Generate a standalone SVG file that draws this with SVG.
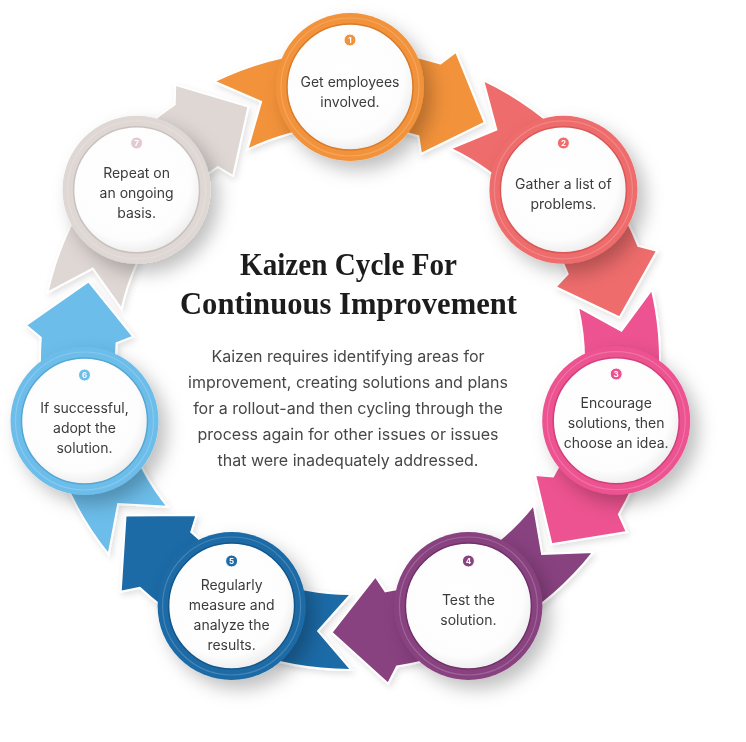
<svg xmlns="http://www.w3.org/2000/svg" width="746" height="742" viewBox="0 0 746 742">
  <defs>
    <style>
      .lbl { font-family: Inter, "Liberation Sans", sans-serif; font-size: 14px; fill: #3b3b3b; text-anchor: middle; }
      .num { font-family: Inter, "Liberation Sans", sans-serif; font-size: 8px; font-weight: 700; fill: #ffffff; text-anchor: middle; }
      .title { font-family: "Liberation Serif", "DejaVu Serif", serif; font-size: 31px; font-weight: 700; fill: #1c1c1c; text-anchor: middle; }
      .body { font-family: Inter, "Liberation Sans", sans-serif; font-size: 16px; fill: #474747; text-anchor: middle; }
      .arrow { stroke: #ffffff; stroke-width: 2; stroke-linejoin: miter; }
      .hi { fill: none; stroke: #ffffff; stroke-opacity: 0.18; stroke-width: 1.2; }
      .disk { fill: url(#diskGrad); stroke-width: 1.5; }
    </style>
    <radialGradient id="diskGrad" cx="0.45" cy="0.42" r="0.6">
      <stop offset="0" stop-color="#ffffff"/>
      <stop offset="0.8" stop-color="#fdfdfd"/>
      <stop offset="1" stop-color="#ececec"/>
    </radialGradient>
    <filter id="sh" x="-40%" y="-40%" width="190%" height="190%">
      <feDropShadow dx="8" dy="9" stdDeviation="9" flood-color="#000000" flood-opacity="0.25"/>
    </filter>
    <filter id="ash" x="-20%" y="-20%" width="140%" height="140%">
      <feDropShadow dx="2" dy="3" stdDeviation="3" flood-color="#000000" flood-opacity="0.12"/>
    </filter>
    <path id="band" d="M214.1,81.4 A310,310 0 0 1 440.6,63.5 L456.1,51.8 L484.8,122.6 L421.0,153.9 L418.4,136.2 A234,234 0 0 0 247.4,149.7 L261.1,101.9 Z"/>
  </defs>

  <rect width="746" height="742" fill="#ffffff"/>

  <g id="connectors" filter="url(#ash)">
    <use href="#band" class="arrow" fill="#F2923B" transform="rotate(0 350 360)"/>
    <use href="#band" class="arrow" fill="#EE6C6C" transform="rotate(51.4286 350 360)"/>
    <use href="#band" class="arrow" fill="#EC5290" transform="rotate(102.857 350 360)"/>
    <use href="#band" class="arrow" fill="#894280" transform="rotate(154.286 350 360)"/>
    <use href="#band" class="arrow" fill="#1E6BA6" transform="rotate(205.714 350 360)"/>
    <use href="#band" class="arrow" fill="#6CBDEA" transform="rotate(257.143 350 360)"/>
    <use href="#band" class="arrow" fill="#DED7D4" transform="rotate(308.571 350 360)"/>
  </g>

  <g id="node1">
    <circle cx="350" cy="87" r="74" fill="#F2923B" filter="url(#sh)"/>
    <circle cx="350" cy="87" r="69" class="hi"/>
    <circle cx="350" cy="87" r="63" class="disk" stroke="#D97A28"/>
    <circle cx="350" cy="40" r="6" fill="#F2923B" stroke="#ffffff" stroke-width="1"/>
    <text x="350" y="43" class="num">1</text>
    <text x="350" y="87" class="lbl">Get employees</text>
    <text x="350" y="107" class="lbl">involved.</text>
  </g>

  <g id="node2">
    <circle cx="563.4" cy="189.8" r="74" fill="#EE6C6C" filter="url(#sh)"/>
    <circle cx="563.4" cy="189.8" r="69" class="hi"/>
    <circle cx="563.4" cy="189.8" r="63" class="disk" stroke="#D85858"/>
    <circle cx="563.4" cy="143" r="6" fill="#EE6C6C" stroke="#ffffff" stroke-width="1"/>
    <text x="563.4" y="146" class="num">2</text>
    <text x="563.4" y="189" class="lbl">Gather a list of</text>
    <text x="563.4" y="209" class="lbl">problems.</text>
  </g>

  <g id="node3">
    <circle cx="616.2" cy="420.7" r="74" fill="#EC5290" filter="url(#sh)"/>
    <circle cx="616.2" cy="420.7" r="69" class="hi"/>
    <circle cx="616.2" cy="420.7" r="63" class="disk" stroke="#D23F7A"/>
    <circle cx="616.2" cy="374" r="6" fill="#EC5290" stroke="#ffffff" stroke-width="1"/>
    <text x="616.2" y="377" class="num">3</text>
    <text x="616.2" y="408" class="lbl">Encourage</text>
    <text x="616.2" y="428" class="lbl">solutions, then</text>
    <text x="616.2" y="448" class="lbl">choose an idea.</text>
  </g>

  <g id="node4">
    <circle cx="468.4" cy="606" r="74" fill="#894280" filter="url(#sh)"/>
    <circle cx="468.4" cy="606" r="69" class="hi"/>
    <circle cx="468.4" cy="606" r="63" class="disk" stroke="#6F3168"/>
    <circle cx="468.4" cy="561" r="6" fill="#894280" stroke="#ffffff" stroke-width="1"/>
    <text x="468.4" y="564" class="num">4</text>
    <text x="468.4" y="605" class="lbl">Test the</text>
    <text x="468.4" y="625" class="lbl">solution.</text>
  </g>

  <g id="node5">
    <circle cx="231.6" cy="606" r="74" fill="#1E6BA6" filter="url(#sh)"/>
    <circle cx="231.6" cy="606" r="69" class="hi"/>
    <circle cx="231.6" cy="606" r="63" class="disk" stroke="#15568A"/>
    <circle cx="231.6" cy="561" r="6" fill="#1E6BA6" stroke="#ffffff" stroke-width="1"/>
    <text x="231.6" y="564" class="num">5</text>
    <text x="231.6" y="590" class="lbl">Regularly</text>
    <text x="231.6" y="610" class="lbl">measure and</text>
    <text x="231.6" y="630" class="lbl">analyze the</text>
    <text x="231.6" y="650" class="lbl">results.</text>
  </g>

  <g id="node6">
    <circle cx="84.5" cy="421" r="74" fill="#6CBDEA" filter="url(#sh)"/>
    <circle cx="84.5" cy="421" r="69" class="hi"/>
    <circle cx="84.5" cy="421" r="63" class="disk" stroke="#54A6D4"/>
    <circle cx="84.5" cy="375" r="6" fill="#6CBDEA" stroke="#ffffff" stroke-width="1"/>
    <text x="84.5" y="378" class="num">6</text>
    <text x="84.5" y="413" class="lbl">If successful,</text>
    <text x="84.5" y="433" class="lbl">adopt the</text>
    <text x="84.5" y="453" class="lbl">solution.</text>
  </g>

  <g id="node7">
    <circle cx="136.6" cy="189.8" r="74" fill="#DED7D4" filter="url(#sh)"/>
    <circle cx="136.6" cy="189.8" r="69" class="hi"/>
    <circle cx="136.6" cy="189.8" r="63" class="disk" stroke="#C9C1BE"/>
    <circle cx="136.6" cy="143" r="6" fill="#E3C9D3" stroke="#ffffff" stroke-width="1"/>
    <text x="136.6" y="146" class="num">7</text>
    <text x="136.6" y="178" class="lbl">Repeat on</text>
    <text x="136.6" y="198" class="lbl">an ongoing</text>
    <text x="136.6" y="218" class="lbl">basis.</text>
  </g>

  <g id="title">
    <text x="348.5" y="275" class="title" textLength="217" lengthAdjust="spacingAndGlyphs">Kaizen Cycle For</text>
    <text x="348.5" y="314" class="title" textLength="337" lengthAdjust="spacingAndGlyphs">Continuous Improvement</text>
  </g>

  <g id="description">
    <text x="348" y="362" class="body">Kaizen requires identifying areas for</text>
    <text x="348" y="388" class="body">improvement, creating solutions and plans</text>
    <text x="348" y="414" class="body">for a rollout-and then cycling through the</text>
    <text x="348" y="440" class="body">process again for other issues or issues</text>
    <text x="348" y="466" class="body">that were inadequately addressed.</text>
  </g>
</svg>
